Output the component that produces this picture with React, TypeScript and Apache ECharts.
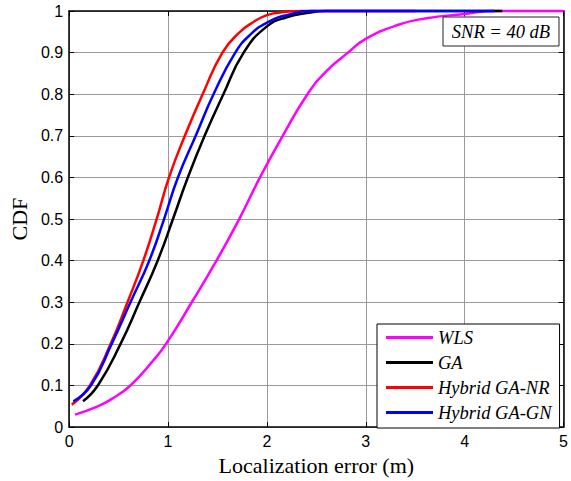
import React, { useEffect, useRef } from "react";
import * as echarts from "echarts";

const seriesNames = ["WLS", "GA", "Hybrid GA-NR", "Hybrid GA-GN"];
const seriesColors = ["#ff00ff", "#000000", "#ff0000", "#0000ff"];

const wlsX = [0.06, 0.29, 0.42, 0.62, 0.85, 0.98, 1.24, 1.49, 1.72, 1.93, 2.16, 2.41, 2.6, 2.82, 3.0, 3.33, 3.6, 4.0, 4.3, 5.0];
const wlsY = [0.03, 0.05, 0.066, 0.1, 0.16, 0.2, 0.3, 0.4, 0.5, 0.6, 0.7, 0.8, 0.855, 0.9, 0.933, 0.967, 0.982, 0.993, 1.0, 1.0];

const gaX = [0.14, 0.29, 0.52, 0.71, 0.895, 1.05, 1.2, 1.37, 1.56, 1.765, 2.0, 2.2, 2.4, 2.6, 4.38];
const gaY = [0.062, 0.1, 0.2, 0.3, 0.4, 0.5, 0.6, 0.7, 0.8, 0.9, 0.963, 0.985, 0.995, 1.0, 1.0];

const nrX = [0.027, 0.21, 0.42, 0.59, 0.75, 0.885, 1.01, 1.17, 1.35, 1.55, 1.72, 1.86, 2.0, 2.15, 2.35, 2.6, 3.5];
const nrY = [0.054, 0.1, 0.2, 0.3, 0.4, 0.5, 0.6, 0.7, 0.8, 0.9, 0.948, 0.973, 0.99, 0.997, 1.0, 1.0, 1.0];

const gnX = [0.043, 0.22, 0.43, 0.62, 0.81, 0.96, 1.1, 1.28, 1.46, 1.68, 1.84, 2.0, 2.2, 2.45, 2.8, 4.3];
const gnY = [0.062, 0.1, 0.2, 0.3, 0.4, 0.5, 0.6, 0.7, 0.8, 0.9, 0.945, 0.972, 0.99, 1.0, 1.0, 1.0];

const xTitle = "Localization error (m)";
const yTitle = "CDF";
const annotation = "SNR = 40 dB";

const zip = (xs: number[], ys: number[]) => xs.map((x, i) => [x, ys[i]]);

export default function App() {
  const ref = useRef<HTMLDivElement>(null);
  useEffect(() => {
    if (!ref.current) return;
    const chart = echarts.init(ref.current, null, { renderer: "svg" });
    const allData = [zip(wlsX, wlsY), zip(gaX, gaY), zip(nrX, nrY), zip(gnX, gnY)];
    const sans = "Liberation Sans";
    const serif = "Liberation Serif";
    const axisCommon = {
      type: "value" as const,
      axisLine: { show: true, onZero: false, lineStyle: { color: "#000", width: 1.5 } },
      axisTick: { show: true, inside: true, length: 5, lineStyle: { color: "#000", width: 1 } },
    };
    chart.setOption({
      animation: false,
      backgroundColor: "#fff",
      grid: { left: 64, right: 2, top: 11, bottom: 50, containLabel: false },
      xAxis: [
        {
          ...axisCommon,
          position: "bottom",
          min: 0,
          max: 5,
          interval: 1,
          name: xTitle,
          nameLocation: "middle",
          nameGap: 26,
          nameTextStyle: { fontFamily: serif, fontSize: 22, color: "#000" },
          axisLabel: { fontFamily: sans, fontSize: 16, color: "#000", margin: 6 },
          splitLine: { show: true, lineStyle: { color: "#9a9a9a", width: 1 } },
        },
        {
          ...axisCommon,
          position: "top",
          min: 0,
          max: 5,
          interval: 1,
          axisLabel: { show: false },
          splitLine: { show: false },
        },
      ],
      yAxis: [
        {
          ...axisCommon,
          position: "left",
          min: 0,
          max: 1,
          interval: 0.1,
          name: yTitle,
          nameLocation: "middle",
          nameGap: 39,
          nameRotate: 90,
          nameTextStyle: { fontFamily: serif, fontSize: 22, color: "#000" },
          axisLabel: { fontFamily: sans, fontSize: 16, color: "#000", margin: 6 },
          splitLine: { show: true, lineStyle: { color: "#9a9a9a", width: 1 } },
        },
        {
          ...axisCommon,
          position: "right",
          min: 0,
          max: 1,
          interval: 0.1,
          axisLabel: { show: false },
          splitLine: { show: false },
        },
      ],
      legend: {
        orient: "vertical",
        left: 377,
        top: 324,
        data: seriesNames,
        icon: "rect",
        itemWidth: 47,
        itemHeight: 3,
        itemGap: 6,
        padding: [4, 8, 6, 9],
        borderColor: "#000",
        borderWidth: 1,
        backgroundColor: "#fff",
        textStyle: { fontFamily: serif, fontStyle: "italic", fontSize: 18.5, color: "#000", lineHeight: 18 },
      },
      graphic: [
        {
          type: "rect",
          shape: { x: 443, y: 17, width: 116, height: 29 },
          style: { fill: "#fff", stroke: "#222", lineWidth: 1 },
          z: 10,
        },
        {
          type: "text",
          x: 501,
          y: 32,
          style: {
            text: annotation,
            fontFamily: serif,
            fontStyle: "italic",
            fontSize: 18.5,
            fill: "#000",
            align: "center",
            verticalAlign: "middle",
          },
          z: 11,
        },
      ],
      series: allData.map((d, i) => ({
        name: seriesNames[i],
        type: "line",
        data: d,
        showSymbol: false,
        smooth: 0.5,
        clip: false,
        color: seriesColors[i],
        lineStyle: { color: seriesColors[i], width: 2.5 },
      })),
    });
    return () => chart.dispose();
  }, []);
  return (
    <div
      ref={ref}
      style={{ position: "fixed", left: 0, top: 0, width: 571, height: 481, background: "#fff" }}
    />
  );
}
